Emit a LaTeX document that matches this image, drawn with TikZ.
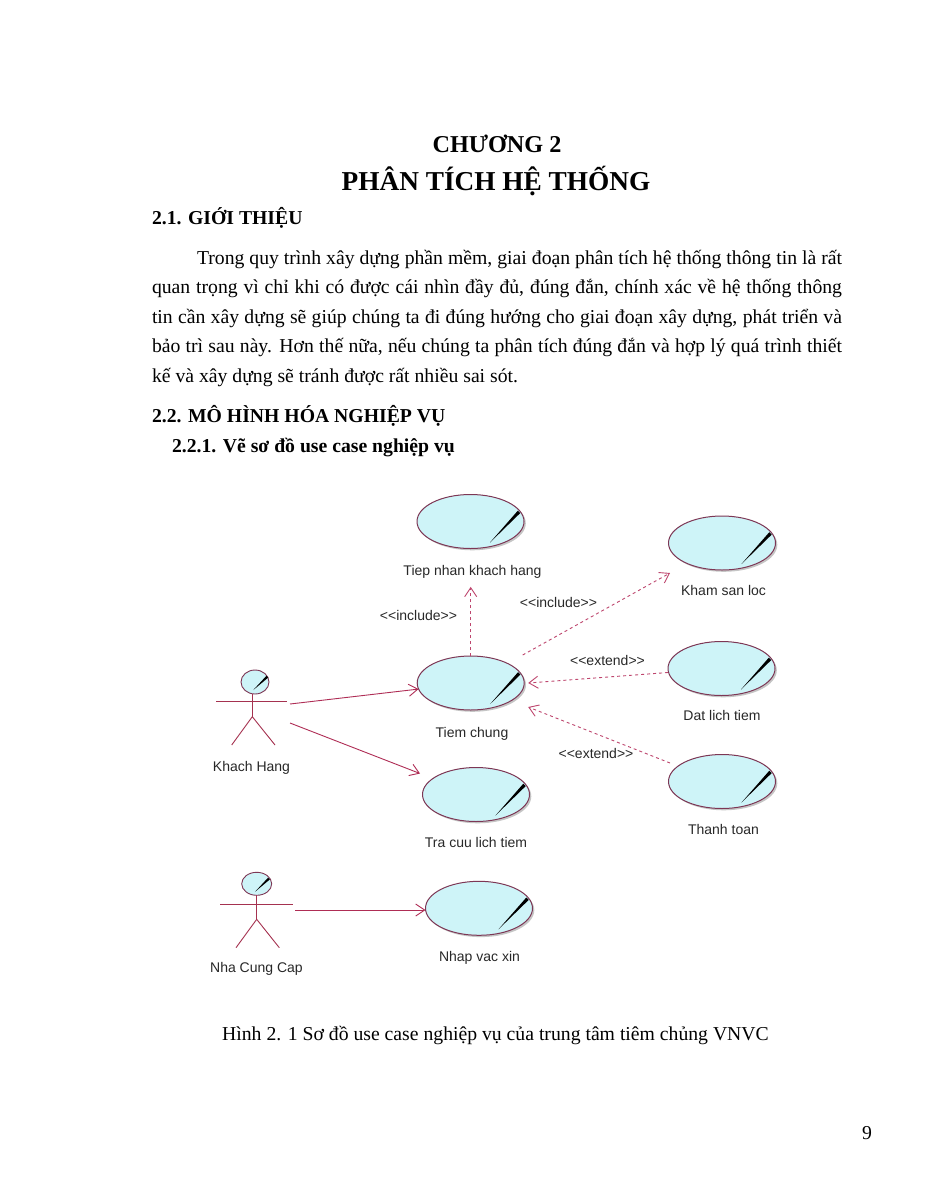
\documentclass[tikz,border=0pt]{standalone}
\usepackage{fontspec}
\setmainfont{Liberation Serif}
\newfontfamily\diagfont{Liberation Sans}
\usetikzlibrary{arrows.meta,shapes.geometric,calc,shadows}
\definecolor{ucfill}{RGB}{206,244,248}
\definecolor{ucline}{RGB}{125,55,85}
\definecolor{conn}{RGB}{175,45,85}
\definecolor{depcol}{RGB}{190,70,110}
\definecolor{actline}{RGB}{165,50,80}
\definecolor{lbl}{RGB}{40,40,40}
\newcommand\ucslash[1]{\fill[black] ($(#1.center)+(19.5,21)$) -- ($(#1.center)+(47.3,-10.8)$) -- ($(#1.center)+(49.7,-8.4)$) -- cycle;}
\newcommand\headslash[1]{\fill[black] ($(#1.center)+(-1.7,8)$) -- ($(#1.center)+(11.4,-6.2)$) -- ($(#1.center)+(13.2,-4.4)$) -- cycle;}
\begin{document}
\begin{tikzpicture}[x=1pt,y=-1pt,
  every node/.style={inner sep=0pt, outer sep=0pt},
  body/.style={anchor=base west, font=\fontsize{19.7}{23}\selectfont},
  headg/.style={anchor=base west, font=\bfseries\fontsize{19.7}{23}\selectfont},
  ucase/.style={ellipse, draw=ucline, line width=1pt, fill=ucfill, minimum width=107pt, minimum height=54pt,
     drop shadow={shadow xshift=1.8pt, shadow yshift=-1.8pt, fill=black!45, opacity=0.5}},
  actorhead/.style={ellipse, draw=ucline, fill=ucfill, line width=0.9pt, minimum width=28pt, minimum height=24pt},
  actorbox/.style={minimum width=74pt, minimum height=80pt},
  actorline/.style={draw=actline, line width=0.9pt},
  uclabel/.style={anchor=base, font=\diagfont\fontsize{14}{16}\selectfont, text=lbl},
  assoc/.style={draw=conn, line width=0.9pt, -{Straight Barb[length=9pt,width=12pt]}},
  dep/.style={draw=depcol, line width=0.9pt, dash pattern=on 3pt off 3pt, -{Straight Barb[length=9pt,width=12pt]}}
]
\useasboundingbox[fill=white] (0,0) rectangle (927,1200);

% ---- page text ----
\node[anchor=base, font=\bfseries\fontsize{24.2}{28}\selectfont] (chap) at (497,152) {CHƯƠNG 2};
\node[anchor=base, font=\bfseries\fontsize{27.3}{30}\selectfont] (title) at (496,190) {PHÂN TÍCH HỆ THỐNG};
\node[headg] (h21) at (152,224) {2.1. GIỚI THIỆU};
\node[body] (l1) at (197,264) {\makebox[645pt][s]{Trong quy trình xây dựng phần mềm, giai đoạn phân tích hệ thống thông tin là rất}};
\node[body] (l2) at (152,293.5) {\makebox[690pt][s]{quan trọng vì chỉ khi có được cái nhìn đầy đủ, đúng đắn, chính xác về hệ thống thông}};
\node[body] (l3) at (152,323) {\makebox[690pt][s]{tin cần xây dựng sẽ giúp chúng ta đi đúng hướng cho giai đoạn xây dựng, phát triển và}};
\node[body] (l4) at (152,352.5) {\makebox[690pt][s]{bảo trì sau này. Hơn thế nữa, nếu chúng ta phân tích đúng đắn và hợp lý quá trình thiết}};
\node[body] (l5) at (152,382) {kế và xây dựng sẽ tránh được rất nhiều sai sót.};
\node[headg] (h22) at (152,422) {2.2. MÔ HÌNH HÓA NGHIỆP VỤ};
\node[headg] (h221) at (172,452) {2.2.1. Vẽ sơ đồ use case nghiệp vụ};
\node[anchor=base, font=\fontsize{19.7}{23}\selectfont] (cap) at (495.5,1040) {Hình 2. 1 Sơ đồ use case nghiệp vụ của trung tâm tiêm chủng VNVC};
\node[anchor=base east, font=\fontsize{19.7}{23}\selectfont] (pg) at (872,1139) {9};

% ---- use cases ----
\node[ucase] (tn)  at (470.5,521.5) {};
\node[ucase] (tc)  at (470.7,683) {};
\node[ucase] (ksl) at (722,543) {};
\node[ucase] (dlt) at (721.5,668.5) {};
\node[ucase] (tt)  at (722,781.5) {};
\node[ucase] (tcl) at (476,794.5) {};
\node[ucase] (nvx) at (479,908.3) {};
\ucslash{tn}\ucslash{tc}\ucslash{ksl}\ucslash{dlt}\ucslash{tt}\ucslash{tcl}\ucslash{nvx}

\node[uclabel] (tnl)  at (472.5,575) {Tiep nhan khach hang};
\node[uclabel] (tcn)  at (472,737) {Tiem chung};
\node[uclabel] (ksll) at (723.5,595) {Kham san loc};
\node[uclabel] (dltl) at (722,720.7) {Dat lich tiem};
\node[uclabel] (ttl)  at (723.5,834) {Thanh toan};
\node[uclabel] (tcll) at (476,847) {Tra cuu lich tiem};
\node[uclabel] (nvxl) at (479.5,961.7) {Nhap vac xin};

% ---- actors ----
\node[actorhead] (khh) at (255,682) {};
\headslash{khh}
\draw[actorline] (216,701.7) -- (286.7,701.7);
\draw[actorline] (252.3,694) -- (252.3,716.7);
\draw[actorline] (231.7,745) -- (252.3,716.7) -- (275,745);
\node[actorbox] (kh) at (253,708) {};
\node[uclabel] (khl) at (251.5,771) {Khach Hang};

\node[actorhead, minimum width=30pt, minimum height=23pt] (ncch) at (256.7,883.8) {};
\headslash{ncch}
\draw[actorline] (220,904.3) -- (292.7,904.3);
\draw[actorline] (256.7,895.3) -- (256.7,919.3);
\draw[actorline] (236,947.7) -- (256.7,919.3) -- (279.3,947.7);
\node[actorbox, minimum width=76pt] (ncc) at (257,910) {};
\node[uclabel] (nccl) at (256.5,972.7) {Nha Cung Cap};

% ---- connectors ----
\draw[assoc] ($(kh.east)+(0,-4)$) -- (tc);
\draw[assoc] ($(kh.east)+(0,15)$) -- ($(tcl.center)+(-56,-21)$);
\draw[assoc] (ncc.east) -- (ncc.east -| nvx.west);
\draw[dep] (tc.north) -- ($(tc.north |- tnl.south)+(0,9)$);
\draw[dep] ($(tc.center)+(52,-28)$) -- ($(ksl.center)+(-52,30)$);
\draw[dep] ($(dlt.west)+(0,4)$) -- ($(tc.east)+(4,0)$);
\draw[dep] ($(tt.center)+(-52,-18.5)$) -- ($(tc.east)+(4,24)$);

\node[uclabel] (s1) at (418.5,620) {<<include>>};
\node[uclabel] (s2) at (558.5,607) {<<include>>};
\node[uclabel] (s3) at (607.5,665) {<<extend>>};
\node[uclabel] (s4) at (596,758) {<<extend>>};
\end{tikzpicture}
\end{document}
